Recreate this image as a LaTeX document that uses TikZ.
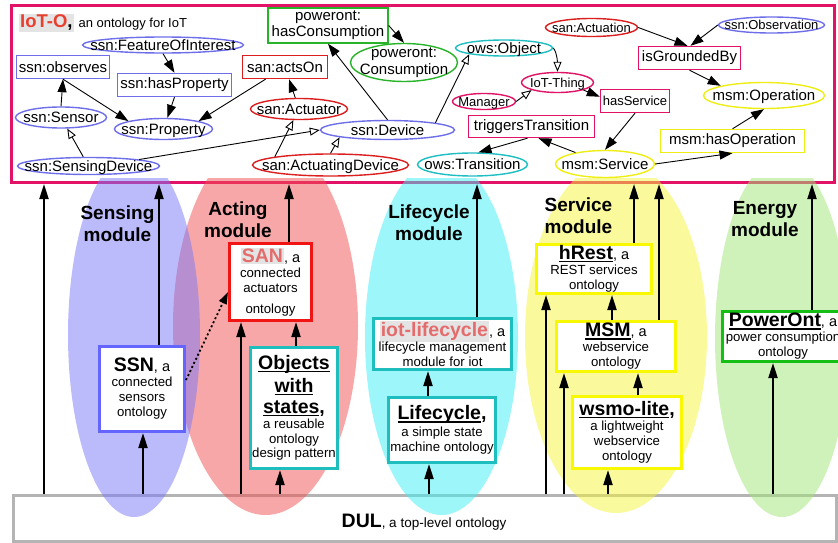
\documentclass[tikz,border=0pt]{standalone}
\usepackage{fontspec}
\setmainfont{Liberation Sans}
\usetikzlibrary{shapes.geometric,arrows.meta,calc}
\definecolor{cmag}{RGB}{226,18,102}
\definecolor{cblue}{RGB}{110,110,235}
\definecolor{cred}{RGB}{220,30,30}
\definecolor{cgreen}{RGB}{40,180,40}
\definecolor{ccyan}{RGB}{30,190,195}
\definecolor{cyel}{RGB}{238,238,20}
\definecolor{bblue}{RGB}{100,100,255}
\definecolor{bred}{RGB}{240,20,20}
\definecolor{bteal}{RGB}{30,190,190}
\definecolor{byel}{RGB}{248,248,0}
\definecolor{bgreen}{RGB}{20,190,20}
\definecolor{bgray}{RGB}{180,180,180}
\definecolor{fblue}{RGB}{120,120,250}
\definecolor{fred}{RGB}{240,80,80}
\definecolor{fcyan}{RGB}{60,240,245}
\definecolor{fyel}{RGB}{245,245,60}
\definecolor{fgreen}{RGB}{160,230,120}
\definecolor{tsalmon}{RGB}{228,108,108}
\definecolor{tred}{RGB}{232,64,48}
\definecolor{hlgray}{RGB}{228,228,228}
\newcommand\zt[2][-0.36em]{\raisebox{#1}[0pt][0pt]{\makebox[0pt]{#2}}}
\newcommand\myul[1]{\setbox0\hbox{#1}\rlap{\rule[-2.6pt]{\wd0}{1.4pt}}\box0}
\newcommand\graybg[1]{{\fboxsep=1pt\colorbox{hlgray}{#1}}}
\newcommand\bigb[1]{{\fontsize{19.5}{20}\selectfont\bfseries #1}}
\newcommand\midr[1]{{\fontsize{14.5}{15}\selectfont #1}}
\begin{document}
\begin{tikzpicture}[x=1pt,y=-1pt,font=\fontsize{15}{17}\selectfont,
  onode/.style={ellipse,draw,line width=1.4pt,inner sep=0pt},
  rnode/.style={rectangle,draw,line width=1.4pt,inner sep=0pt},
  sm/.style={font=\fontsize{13}{15}\selectfont},
  relarrow/.style={line width=0.9pt,-{Triangle[length=13pt,width=9pt]}},
  isaarrow/.style={line width=0.9pt,-{Triangle[open,length=10pt,width=8pt]}},
  modbox/.style={rectangle,draw,line width=3pt,fill=white,inner sep=0pt,align=center,font=\fontsize{13.2}{15}\selectfont},
  uparrow/.style={line width=2pt,-{Triangle[length=15pt,width=9pt]}},
  modlabel/.style={align=center,font=\fontsize{19}{22}\selectfont\bfseries},
  modfill/.style={fill opacity=0.5}]
\useasboundingbox (0,0) rectangle (838,543);
% containers
\node[draw=cmag,line width=3pt,fill=white,minimum width=823pt,minimum height=177pt,inner sep=0pt] (iotobox) at (423,94) {};
\node[draw=bgray,line width=3pt,fill=white,minimum width=822.5pt,minimum height=46.5pt,inner sep=0pt] (dul) at (424.75,518.25) {};
% module ellipses
\begin{scope}
\clip (0,178) rectangle (850,550);
\fill[fred,modfill] (265.5,326) ellipse [x radius=92.5pt, y radius=189pt];
\fill[fcyan,modfill] (441.5,337) ellipse [x radius=76.5pt, y radius=178pt];
\fill[fyel,modfill] (616,336.5) ellipse [x radius=91pt, y radius=176.5pt];
\fill[fgreen,modfill] (782,337.7) ellipse [x radius=67pt, y radius=179.3pt];
\fill[fblue,modfill] (134,335) ellipse [x radius=66pt, y radius=182pt];
\end{scope}
% title
\node[anchor=base west,inner sep=0pt] (title) at (19,28) {\graybg{\fontsize{18.5}{20}\selectfont\bfseries\textcolor{tred}{IoT-O},}\hspace{5pt}{\fontsize{13}{15}\selectfont an ontology for IoT}};
% top nodes
\node[onode,draw=cblue,minimum width=161pt,minimum height=16pt] (foi) at (163,45) {\zt{ssn:FeatureOfInterest}};
\node[rnode,draw=cblue,minimum width=93pt,minimum height=23pt] (observes) at (63,67) {ssn:observes};
\node[rnode,draw=cblue,minimum width=114pt,minimum height=23pt] (hasprop) at (174.5,85) {ssn:hasProperty};
\node[rnode,draw=cred,minimum width=85pt,minimum height=23pt] (actson) at (285,67) {san:actsOn};
\node[onode,draw=cblue,minimum width=91pt,minimum height=21pt] (sensor) at (61,117.5) {\zt{ssn:Sensor}};
\node[onode,draw=cblue,minimum width=98pt,minimum height=21pt] (property) at (163.5,129) {\zt{ssn:Property}};
\node[onode,draw=cblue,minimum width=142pt,minimum height=17pt] (sensdev) at (88.5,166) {\zt{ssn:SensingDevice}};
\node[onode,draw=cred,minimum width=97pt,minimum height=21pt] (actuator) at (299,109) {\zt{san:Actuator}};
\node[onode,draw=cblue,minimum width=134pt,minimum height=19pt] (device) at (387.5,130) {\zt{ssn:Device}};
\node[onode,draw=cred,minimum width=156pt,minimum height=22pt] (actdev) at (330.5,165) {\zt{san:ActuatingDevice}};
\node[rnode,draw=cgreen,minimum width=120pt,minimum height=35pt,align=center,font=\fontsize{15}{16}\selectfont] (hascons) at (328,25.5) {poweront:\\hasConsumption};
\node[onode,draw=cgreen,minimum width=107pt,minimum height=38pt] (consumption) at (404,62.5) {\zt[-0.28em]{\begin{tabular}{@{}c@{}}poweront:\\Consumption\end{tabular}}};
\node[onode,draw=ccyan,minimum width=97pt,minimum height=16pt] (object) at (504,48) {\zt{ows:Object}};
\node[onode,draw=ccyan,minimum width=110pt,minimum height=23pt] (transition) at (472.5,164.5) {\zt{ows:Transition}};
\node[onode,draw=cmag,sm,minimum width=63pt,minimum height=16pt] (manager) at (484,101.5) {\zt{Manager}};
\node[onode,draw=cmag,sm,minimum width=72pt,minimum height=20pt] (iotthing) at (557.5,82.5) {\zt{IoT-Thing}};
\node[rnode,draw=cmag,minimum width=126pt,minimum height=22pt] (triggers) at (531.5,126.5) {triggersTransition};
\node[onode,draw=cred,sm,minimum width=92pt,minimum height=18pt] (actuation) at (591.5,27.5) {\zt{san:Actuation}};
\node[onode,draw=cblue,sm,minimum width=106pt,minimum height=16pt] (observation) at (771.5,25) {\zt{ssn:Observation}};
\node[rnode,draw=cmag,minimum width=102pt,minimum height=23pt] (grounded) at (689.5,58) {isGroundedBy};
\node[rnode,draw=cmag,sm,minimum width=69pt,minimum height=23pt] (hasservice) at (635,101) {hasService};
\node[onode,draw=cyel,minimum width=121pt,minimum height=26pt] (operation) at (764,95.5) {\zt{msm:Operation}};
\node[rnode,draw=cyel,minimum width=144pt,minimum height=23pt] (hasop) at (732.5,141) {msm:hasOperation};
\node[onode,draw=cyel,minimum width=99pt,minimum height=27pt] (service) at (605,164) {\zt{msm:Service}};
% top edges
\draw[relarrow] (foi.south) -- (hasprop.north);
\draw[relarrow] (hasprop.south) -- (property);
\draw[relarrow] (sensor.north) -- (observes.south);
\draw[relarrow] (observes.south) -- (property.north west);
\draw[relarrow] (actson) -- (property.north east);
\draw[relarrow] (actuator) -- (actson);
\draw[isaarrow] (sensdev) -- (sensor);
\draw[isaarrow] (sensdev.north east) -- (device.west);
\draw[isaarrow] (actdev.north west) -- (actuator);
\draw[isaarrow] (actdev.north) -- (device.south west);
\draw[relarrow] (device.north) -- (hascons.south);
\draw[relarrow] (hascons.east) -- (consumption.north);
\draw[isaarrow] (device.north east) -- (object.south west);
\draw[isaarrow] (manager.east) -- (iotthing.south west);
\draw[isaarrow] (object.east) .. controls +(4,4) and +(0,-8) .. (iotthing.north);
\draw[relarrow] (iotthing.south east) -- ($(hasservice.west)!0.35!(hasservice.north west)$);
\draw[relarrow] (hasservice.south) -- (service.north);
\draw[relarrow] (service) -- ($(triggers.south)+(7,0)$);
\draw[relarrow] ($(triggers.south)+(-4,0)$) -- ($(transition.north)+(6,0)$);
\draw[relarrow] (actuation.east) -- ($(grounded.north)+(-2,0)$);
\draw[relarrow] (observation.west) -- ($(grounded.north)+(1,0)$);
\draw[relarrow] (grounded.south) -- (operation.north west);
\draw[relarrow] (service.east) -- (hasop.south);
\draw[relarrow] (hasop.north) -- (operation.south);
% module labels
\node[modlabel] (lsens) at (117.5,224) {Sensing\\module};
\node[modlabel] (lact) at (238,220) {Acting\\module};
\node[modlabel] (llife) at (429,223) {Lifecycle\\module};
\node[modlabel] (lserv) at (578.5,216) {Service\\module};
\node[modlabel] (lener) at (765,219.5) {Energy\\module};
% module boxes
\node[modbox,draw=bblue,minimum width=85pt,minimum height=85pt] (ssn) at (142,389) {\bigb{SSN}\midr{, a}\\connected\\sensors\\ontology};
\node[modbox,draw=bred,minimum width=82pt,minimum height=77pt] (san) at (270.5,282) {\bigb{\graybg{\textcolor{tsalmon}{SAN}}}\midr{, a}\\connected\\actuators\\[6pt]ontology};
\node[modbox,draw=bteal,minimum width=87pt,minimum height=121pt,font=\fontsize{13.2}{24}\selectfont] (objects) at (294,408) {\bigb{\myul{Objects}}\\[-1pt]\bigb{\myul{with}}\\[-3pt]\bigb{\myul{states},}\\[-8.5pt]a reusable\\[-9pt]ontology\\[-10pt]design pattern};
\node[modbox,draw=bteal,minimum width=138pt,minimum height=51pt] (iotlc) at (442.5,344) {\bigb{\graybg{\textcolor{tsalmon}{iot-lifecycle}}}\midr{, a}\\lifecycle management\\module for iot};
\node[modbox,draw=bteal,minimum width=107pt,minimum height=65pt] (lc) at (442,430) {\bigb{\myul{Lifecycle},}\\[1.5pt]a simple state\\machine ontology};
\node[modbox,draw=byel,minimum width=115pt,minimum height=49pt] (hrest) at (594,269) {\bigb{\myul{hRest}}\midr{, a}\\REST services\\ontology};
\node[modbox,draw=byel,minimum width=119pt,minimum height=50pt] (msm) at (616,346.5) {\bigb{\myul{MSM}}\midr{, a}\\webservice\\ontology};
\node[modbox,draw=byel,minimum width=109pt,minimum height=72pt] (wsmo) at (627,432.5) {\bigb{\myul{wsmo-lite},}\\a lightweight\\webservice\\ontology};
\node[modbox,draw=bgreen,minimum width=121pt,minimum height=50pt] (power) at (783,336.5) {\bigb{\myul{PowerOnt}}\midr{, a}\\power consumption\\ontology};
\node[anchor=base,inner sep=0pt] (dultext) at (424,527) {\bigb{DUL}{\fontsize{13.5}{15}\selectfont, a top-level ontology}};
% vertical guide coordinates
\foreach \xx in {44,143,159,241,280,289,296,428,429,477,546,564,608,612,634,638,659,773,812} {\coordinate (v\xx) at (\xx,0);}
% lower arrows
\draw[uparrow] (v44 |- dul.north) -- (v44 |- iotobox.south);
\draw[uparrow] (v159 |- ssn.north) -- (v159 |- iotobox.south);
\draw[uparrow] (v143 |- dul.north) -- (v143 |- ssn.south);
\draw[line width=1.8pt,dash pattern=on 2pt off 2.5pt,-{Triangle[length=12pt,width=8pt]}] ($(ssn.east)+(0,-9)$) -- ($(san.west)+(0,10)$);
\draw[uparrow] (v289 |- san.north) -- (v289 |- iotobox.south);
\draw[uparrow] (v241 |- dul.north) -- (v241 |- san.south);
\draw[uparrow] (v296 |- objects.north) -- (v296 |- san.south);
\draw[uparrow] (v280 |- dul.north) -- (v280 |- objects.south);
\draw[uparrow] (v477 |- iotlc.north) -- (v477 |- iotobox.south);
\draw[uparrow] (v428 |- lc.north) -- (v428 |- iotlc.south);
\draw[uparrow] (v429 |- dul.north) -- (v429 |- lc.south);
\draw[uparrow] (v634 |- hrest.north) -- (v634 |- iotobox.south);
\draw[uparrow] (v659 |- msm.north) -- (v659 |- iotobox.south);
\draw[uparrow] (v546 |- dul.north) -- (v546 |- hrest.south);
\draw[uparrow] (v612 |- msm.north) -- (v612 |- hrest.south);
\draw[uparrow] (v564 |- dul.north) -- (v564 |- msm.south);
\draw[uparrow] (v638 |- wsmo.north) -- (v638 |- msm.south);
\draw[uparrow] (v608 |- dul.north) -- (v608 |- wsmo.south);
\draw[uparrow] (v812 |- power.north) -- (v812 |- iotobox.south);
\draw[uparrow] (v773 |- dul.north) -- (v773 |- power.south);
\end{tikzpicture}
\end{document}
